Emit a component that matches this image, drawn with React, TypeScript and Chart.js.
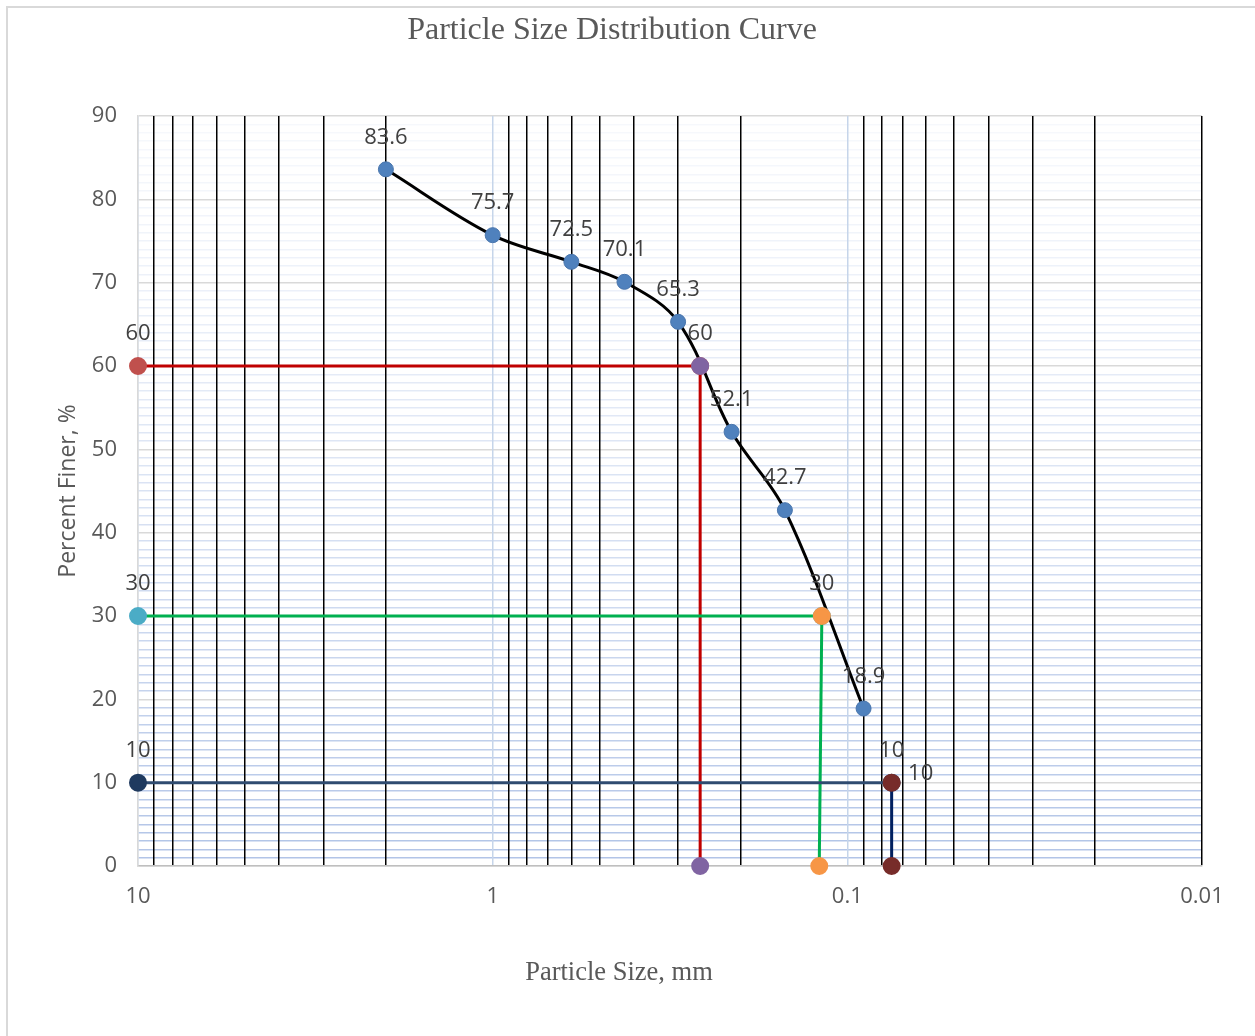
import React, { useEffect, useRef } from 'react';
import { Chart, registerables } from 'chart.js';

Chart.register(...registerables);

// ---- data ----
const sieveSizes = [2, 1, 0.6, 0.425, 0.3, 0.212, 0.15, 0.09];
const percentFiner = [83.6, 75.7, 72.5, 70.1, 65.3, 52.1, 42.7, 18.9];

const d60Size = 0.26;
const d30Size = 0.118;
const d30Foot = 0.12;
const d10Size = 0.075;
const axisStart = 10;

const xGridValues = [
  10, 9, 8, 7, 6, 5, 4, 3, 2,
  1, 0.9, 0.8, 0.7, 0.6, 0.5, 0.4, 0.3, 0.2,
  0.1, 0.09, 0.08, 0.07, 0.06, 0.05, 0.04, 0.03, 0.02,
  0.01,
];
const xTickLabels = ['10', '1', '0.1', '0.01'];
const xMajorValues = [10, 1, 0.1];
const yTickLabels = ['0', '10', '20', '30', '40', '50', '60', '70', '80', '90'];

const titleText = 'Particle Size Distribution Curve';
const xTitleText = 'Particle Size, mm';
const yTitleText = 'Percent Finer, %';

const TICK_FONT = '"Open Sans", "Noto Sans", sans-serif';
const SERIF = '"Liberation Serif", "DejaVu Serif", serif';

const fmt = (v: number) => String(v);

const labelPlugin = {
  id: 'pointLabels',
  afterDatasetsDraw(chart: any) {
    const ctx = chart.ctx;
    ctx.save();
    ctx.font = `22px ${TICK_FONT}`;
    ctx.fillStyle = '#404040';
    ctx.textAlign = 'center';
    ctx.textBaseline = 'middle';
    chart.data.datasets.forEach((ds: any, di: number) => {
      const meta = chart.getDatasetMeta(di);
      if (!ds.labelPos) return;
      meta.data.forEach((el: any, i: number) => {
        const pos = ds.labelPos[i];
        if (!pos) return;
        const v = ds.data[i].y;
        const txt = fmt(v);
        if (pos === 'above') ctx.fillText(txt, el.x, el.y - 32);
        else if (pos === 'right') ctx.fillText(txt, el.x + 29, el.y - 9);
      });
    });
    ctx.restore();
  },
};

const framePlugin = {
  id: 'frame',
  beforeDraw(chart: any) {
    const ctx = chart.ctx;
    ctx.save();
    ctx.fillStyle = '#ffffff';
    ctx.fillRect(0, 0, chart.width, chart.height);
    ctx.strokeStyle = '#D9D9D9';
    ctx.lineWidth = 2;
    ctx.beginPath();
    ctx.moveTo(7, chart.height + 5);
    ctx.lineTo(7, 7);
    ctx.lineTo(chart.width + 5, 7);
    ctx.stroke();
    ctx.restore();
  },
  afterDraw(chart: any) {
    const ctx = chart.ctx;
    ctx.save();
    ctx.fillStyle = '#595959';
    ctx.textAlign = 'center';
    ctx.textBaseline = 'middle';
    ctx.font = `32px ${SERIF}`;
    ctx.fillText(titleText, 612, 31);
    ctx.font = `26.5px ${SERIF}`;
    ctx.fillText(xTitleText, 619, 973);
    ctx.translate(68, 491);
    ctx.rotate(-Math.PI / 2);
    ctx.font = `23px ${TICK_FONT}`;
    ctx.fillText(yTitleText, 0, 0);
    ctx.restore();
  },
};

export default function App() {
  const ref = useRef<HTMLCanvasElement | null>(null);

  useEffect(() => {
    if (!ref.current) return;

    const curve = sieveSizes.map((s, i) => ({ x: s, y: percentFiner[i] }));

    const common = { showLine: true, borderWidth: 3, pointRadius: 7.5, clip: false };

    const chart = new Chart(ref.current, {
      type: 'scatter',
      data: {
        datasets: [
          {
            ...common,
            data: [{ x: d10Size, y: 10 }, { x: d10Size, y: 0 }],
            borderColor: '#002060',
            pointBackgroundColor: '#772C2A',
            pointBorderColor: '#772C2A',
            labelPos: ['right', null],
          } as any,
          {
            ...common,
            data: [{ x: axisStart, y: 10 }, { x: d10Size, y: 10 }],
            borderColor: '#2F4B70',
            pointBackgroundColor: '#1F3A5F',
            pointBorderColor: '#1F3A5F',
            labelPos: ['above', 'above'],
          } as any,
          {
            ...common,
            data: [{ x: d30Size, y: 30 }, { x: d30Foot, y: 0 }],
            borderColor: '#00B050',
            pointBackgroundColor: '#F79646',
            pointBorderColor: '#F79646',
            labelPos: ['above', null],
          } as any,
          {
            ...common,
            data: [{ x: axisStart, y: 30 }, { x: d30Size, y: 30 }],
            borderColor: '#00B050',
            pointBackgroundColor: '#4BACC6',
            pointBorderColor: '#4BACC6',
            labelPos: ['above', null],
          } as any,
          {
            ...common,
            data: [{ x: d60Size, y: 60 }, { x: d60Size, y: 0 }],
            borderColor: '#C00000',
            pointBackgroundColor: '#8064A2',
            pointBorderColor: '#8064A2',
            labelPos: ['above', null],
          } as any,
          {
            ...common,
            data: [{ x: axisStart, y: 60 }, { x: d60Size, y: 60 }],
            borderColor: '#C00000',
            pointBackgroundColor: '#C0504D',
            pointBorderColor: '#C0504D',
            labelPos: ['above', null],
          } as any,
          {
            ...common,
            data: curve,
            borderColor: '#000000',
            tension: 0.35,
            pointBackgroundColor: '#4F81BD',
            pointBorderColor: '#4A76AD',
            pointBorderWidth: 1,
            labelPos: curve.map(() => 'above'),
          } as any,
        ],
      },
      options: {
        responsive: false,
        animation: false,
        events: [],
        layout: { padding: { left: 0, top: 116, right: 53, bottom: 0 } },
        plugins: {
          legend: { display: false },
          tooltip: { enabled: false },
          title: { display: false },
        },
        scales: {
          x: {
            type: 'logarithmic',
            reverse: true,
            min: 0.01,
            max: 10,
            afterBuildTicks: (scale: any) => {
              scale.ticks = xGridValues.map((v) => ({ value: v, major: xMajorValues.includes(v) }));
            },
            afterFit: (scale: any) => {
              scale.height = 170;
            },
            ticks: {
              autoSkip: false,
              maxRotation: 0,
              minRotation: 0,
              padding: 18,
              color: '#595959',
              font: { family: TICK_FONT, size: 22 },
              callback: (val: any) => {
                const s = fmt(Number(val));
                return xTickLabels.includes(s) ? s : '';
              },
            },
            grid: {
              drawTicks: false,
              z: -1,
              lineWidth: 1.5,
              color: (c: any) => {
                const v = c.tick ? c.tick.value : 0;
                if (xMajorValues.includes(v)) return '#C6D5EA';
                return '#000000';
              },
            },
            border: { display: true, color: '#BFBFBF', width: 1.5 },
          } as any,
          y: {
            type: 'linear',
            min: 0,
            max: 90,
            afterFit: (scale: any) => {
              scale.width = 138;
            },
            ticks: {
              stepSize: 1,
              autoSkip: false,
              padding: 21,
              color: '#595959',
              font: { family: TICK_FONT, size: 22 },
              callback: (val: any) => {
                const s = fmt(Number(val));
                return yTickLabels.includes(s) ? s : '';
              },
            },
            grid: {
              drawTicks: false,
              z: -2,
              lineWidth: 1.5,
              color: (c: any) => {
                const v = c.tick ? c.tick.value : 0;
                if (v % 10 === 0) return '#D9D9D9';
                const a = 0.08 + 0.62 * Math.pow(1 - v / 90, 1.3);
                return `rgba(143,170,220,${a.toFixed(3)})`;
              },
            },
            border: { display: true, color: '#D9D9D9', width: 1.5 },
          } as any,
        },
      },
      plugins: [framePlugin, labelPlugin],
    } as any);

    return () => chart.destroy();
  }, []);

  return (
    <div style={{ position: 'fixed', left: 0, top: 0, width: 1255, height: 1036, background: '#fff' }}>
      <canvas ref={ref} width={1255} height={1036} style={{ width: 1255, height: 1036, display: 'block' }} />
    </div>
  );
}
